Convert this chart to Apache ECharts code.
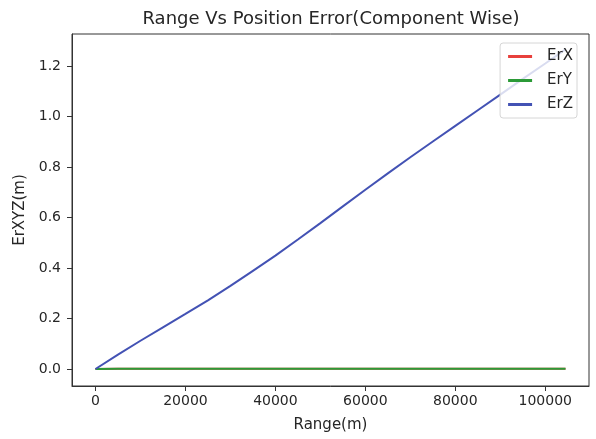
<!DOCTYPE html>
<html>
<head>
<meta charset="utf-8">
<script src="https://cdn.jsdelivr.net/npm/echarts@6/dist/echarts.min.js"></script>
<style>
  html, body { margin: 0; padding: 0; background: #fff; }
  #chart { width: 596px; height: 439px; }
</style>
</head>
<body>
<div id="chart"></div>
<script>
// Range samples (m)
const rangeM = [0, 5000, 10000, 15000, 20000, 25000, 30000, 35000, 40000, 45000, 50000,
  55000, 60000, 65000, 70000, 75000, 80000, 85000, 90000, 95000, 100000, 104500];
// Position error components (m)
const errX = [0, 0.001, 0.001, 0.001, 0.001, 0.001, 0.001, 0.001, 0.001, 0.001, 0.001,
  0.001, 0.001, 0.001, 0.001, 0.001, 0.001, 0.001, 0.001, 0.001, 0.001, 0.001];
const errY = [0, 0.001, 0.001, 0.001, 0.001, 0.001, 0.001, 0.001, 0.001, 0.001, 0.001,
  0.001, 0.001, 0.001, 0.001, 0.001, 0.001, 0.001, 0.001, 0.001, 0.001, 0.001];
const errZ = [0, 0.057, 0.112, 0.165, 0.218, 0.272, 0.329, 0.389, 0.449, 0.513, 0.578,
  0.644, 0.71, 0.775, 0.839, 0.901, 0.963, 1.025, 1.087, 1.149, 1.21, 1.266];
// Tick values
const xTicks = [0, 20000, 40000, 60000, 80000, 100000];
const yTicks = [0, 0.2, 0.4, 0.6, 0.8, 1.0, 1.2];
const seriesNames = ['ErX', 'ErY', 'ErZ'];

const pairs = (ys) => rangeM.map((x, i) => [x, ys[i]]);
const font = 'DejaVu Sans';
const textColor = '#262626';

const chart = echarts.init(document.getElementById('chart'));
chart.setOption({
  animation: false,
  backgroundColor: '#fff',
  title: {
    text: 'Range Vs Position Error(Component Wise)',
    left: 326, top: 5, textAlign: 'center',
    textStyle: { fontFamily: font, fontSize: 18, fontWeight: 'normal', color: textColor }
  },
  grid: {
    left: 72, right: 7, top: 34, bottom: 53,
    show: true, borderColor: '#333', borderWidth: 1, backgroundColor: '#fff'
  },
  legend: {
    orient: 'vertical', right: 19, top: 43,
    itemWidth: 24, itemHeight: 3, itemGap: 9, icon: 'rect',
    padding: [6, 4, 6, 8],
    backgroundColor: 'rgba(255,255,255,0.8)', borderColor: '#d6d6d6', borderWidth: 1, borderRadius: 3,
    textStyle: { fontFamily: font, fontSize: 15, color: textColor, padding: [0, 0, 0, 10] },
    data: seriesNames
  },
  xAxis: {
    type: 'value', min: -5222, max: 109722,
    name: 'Range(m)', nameLocation: 'middle', nameGap: 32,
    nameTextStyle: { fontFamily: font, fontSize: 15, color: textColor },
    splitLine: { show: false },
    axisLine: { show: true, onZero: false, lineStyle: { color: '#333' } },
    axisTick: { show: true, length: 5, customValues: xTicks, lineStyle: { color: '#333' } },
    axisLabel: {
      customValues: xTicks, fontFamily: font, fontSize: 14, color: textColor, margin: 8,
      formatter: (v) => String(v)
    }
  },
  yAxis: {
    type: 'value', min: -0.0673, max: 1.327,
    name: 'ErXYZ(m)', nameLocation: 'middle', nameGap: 37, nameRotate: 90,
    nameTextStyle: { fontFamily: font, fontSize: 15, color: textColor },
    splitLine: { show: false },
    axisLine: { show: true, onZero: false, lineStyle: { color: '#333' } },
    axisTick: { show: true, length: 5, customValues: yTicks, lineStyle: { color: '#333' } },
    axisLabel: {
      customValues: yTicks, fontFamily: font, fontSize: 14, color: textColor, margin: 11,
      formatter: (v) => v.toFixed(1)
    }
  },
  series: [
    { name: 'ErX', type: 'line', data: pairs(errX), showSymbol: false, symbol: 'none',
      color: '#e8403c', lineStyle: { width: 2, color: '#e8403c' } },
    { name: 'ErY', type: 'line', data: pairs(errY), showSymbol: false, symbol: 'none',
      color: '#2b9a37', lineStyle: { width: 2, color: '#2b9a37' } },
    { name: 'ErZ', type: 'line', data: pairs(errZ), showSymbol: false, symbol: 'none',
      color: '#4352b4', lineStyle: { width: 2, color: '#4352b4' } }
  ]
});
</script>
</body>
</html>
